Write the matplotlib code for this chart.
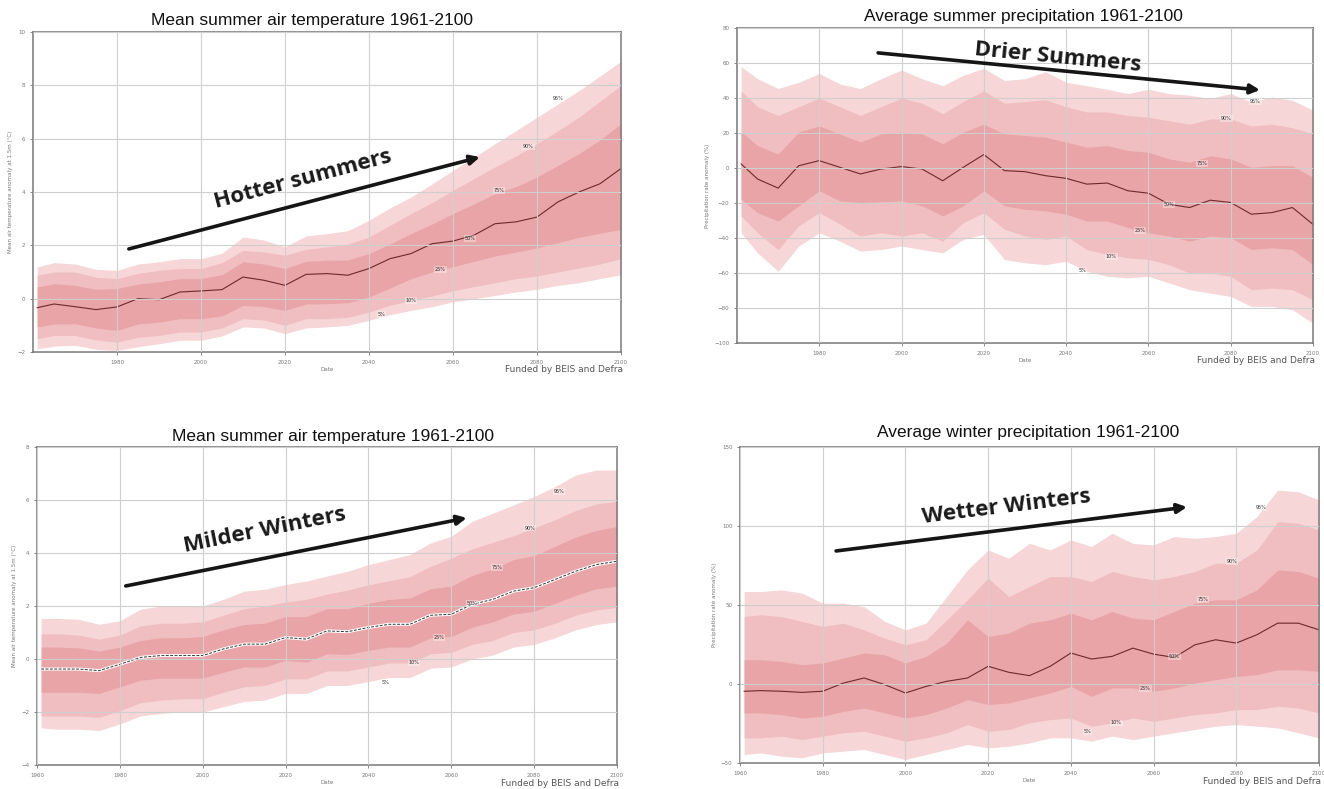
import matplotlib
matplotlib.use("Agg")
import matplotlib.pyplot as plt

# ======================================
# DATA
# ======================================
years = [1961, 1965, 1970, 1975, 1980, 1985, 1990, 1995, 2000, 2005,
         2010, 2015, 2020, 2025, 2030, 2035, 2040, 2045, 2050, 2055,
         2060, 2065, 2070, 2075, 2080, 2085, 2090, 2095, 2100]
pct_names = ["5%", "10%", "25%", "50%", "75%", "90%", "95%"]

# --- summer temperature (degC)
st_p95 = [1.19, 1.35, 1.3, 1.1, 1.06, 1.3, 1.38, 1.5, 1.5, 1.7, 2.31, 2.2, 1.94, 2.35, 2.44,
          2.55, 2.94, 3.4, 3.81, 4.3, 4.81, 5.3, 5.81, 6.3, 6.8, 7.3, 7.8, 8.35, 8.9]
st_p90 = [0.88, 1.0, 1.0, 0.8, 0.75, 0.95, 1.06, 1.13, 1.13, 1.35, 1.81, 1.75, 1.63, 1.85, 1.94,
          2.05, 2.31, 2.75, 3.19, 3.6, 4.06, 4.5, 4.94, 5.35, 5.81, 6.3, 6.81, 7.4, 8.0]
st_p75 = [0.44, 0.56, 0.5, 0.35, 0.38, 0.55, 0.63, 0.75, 0.75, 0.9, 1.38, 1.3, 1.13, 1.4, 1.44,
          1.45, 1.69, 2.05, 2.44, 2.8, 3.19, 3.55, 3.94, 4.2, 4.56, 5.0, 5.44, 5.95, 6.56]
st_p50 = [-0.34, -0.2, -0.3, -0.41, -0.31, 0.0, -0.04, 0.25, 0.29, 0.34, 0.81, 0.69, 0.5, 0.91, 0.94,
          0.88, 1.13, 1.5, 1.69, 2.06, 2.16, 2.38, 2.81, 2.88, 3.06, 3.63, 4.0, 4.31, 4.88]
st_p25 = [-1.06, -0.95, -0.94, -1.1, -1.19, -0.95, -0.88, -0.75, -0.75, -0.65, -0.25, -0.3, -0.44, -0.2, -0.19,
          -0.15, 0.06, 0.4, 0.75, 1.0, 1.2, 1.4, 1.6, 1.75, 1.9, 2.1, 2.3, 2.45, 2.6]
st_p10 = [-1.5, -1.38, -1.38, -1.55, -1.63, -1.45, -1.38, -1.25, -1.25, -1.1, -0.75, -0.8, -1.0, -0.75, -0.75,
          -0.7, -0.5, -0.25, -0.06, 0.1, 0.3, 0.45, 0.6, 0.75, 0.85, 1.0, 1.15, 1.3, 1.5]
st_p5 = [-1.88, -1.78, -1.75, -1.9, -1.94, -1.8, -1.69, -1.56, -1.56, -1.4, -1.06, -1.1, -1.31, -1.1, -1.06,
         -1.0, -0.81, -0.6, -0.44, -0.3, -0.12, 0.0, 0.12, 0.25, 0.35, 0.5, 0.6, 0.75, 0.9]
st_label_years = [2043, 2050, 2057, 2064, 2071, 2078, 2085]
st_label_vals = [-0.6, -0.06, 1.09, 2.25, 4.06, 5.69, 7.5]

# --- summer precipitation (%)
sp_p95 = [57.9, 51, 45.4, 49, 54, 48, 45.4, 51, 56, 51, 47, 53, 57, 50, 51,
          55, 49, 47, 45, 42.5, 45, 42.5, 41.6, 39.7, 42.5, 37.7, 40.6, 38.7, 33]
sp_p90 = [44, 35, 30, 35, 40, 35, 30, 35, 40, 37, 31, 38, 44, 37, 38,
          39, 35, 32, 32, 30, 29, 27, 25, 28, 28, 24, 25, 23, 19.5]
sp_p75 = [20.7, 12.8, 8, 20.5, 24, 19.5, 14.8, 19.5, 20.5, 19.5, 13.8, 20.5, 25, 19.5, 18.6,
          17.6, 14.8, 11.9, 12.8, 10, 9, 5.2, 3.3, 7, 5.2, 0.4, 1.3, 1.3, -5.4]
sp_p50 = [2.3, -6.3, -11.5, 1.3, 4.2, 0.4, -3.4, -0.6, 0.8, -0.6, -7.3, 0.4, 7.7, -1.5, -2.1,
          -4.4, -5.9, -9.2, -8.6, -13.0, -14.4, -20.7, -22.6, -18.4, -19.7, -26.4, -25.5, -22.6, -32.2]
sp_p25 = [-17.8, -25.5, -30.3, -21.6, -13, -18.8, -19.7, -19.3, -18.8, -21.6, -27.4, -21.6, -13, -21.6, -23.6,
          -24.5, -26.4, -30.3, -30.3, -34, -37, -38.9, -41.8, -38.9, -39.8, -46.6, -45.6, -46.6, -55.2]
sp_p10 = [-27.4, -37, -46.6, -33, -25.5, -32, -38.9, -37, -38.9, -37, -41.8, -31.2, -25.5, -35, -38.9,
          -40.8, -38.9, -46.6, -49.4, -51.3, -52.3, -55.2, -60, -60, -61.9, -69.5, -68.6, -69.5, -75.3]
sp_p5 = [-37, -48.5, -59, -44.6, -37, -41.8, -47.5, -46.6, -44.6, -46.6, -48.5, -40.8, -37.9, -52.3, -54.2,
         -55.2, -53.3, -59, -61.9, -62.8, -61.9, -65.7, -69.5, -71.5, -73.4, -79.1, -79.1, -81, -88.7]
sp_label_years = [2044, 2051, 2058, 2065, 2073, 2079, 2086]
sp_label_vals = [-58.4, -50.4, -35.6, -20.7, 2.7, 28.2, 38.1]

# --- winter temperature (degC)
wt_p95 = [1.53, 1.53, 1.5, 1.31, 1.44, 1.88, 2.0, 2.0, 2.0, 2.25, 2.56, 2.63, 2.81, 2.94, 3.13,
          3.31, 3.56, 3.75, 3.94, 4.38, 4.63, 5.19, 5.5, 5.81, 6.13, 6.5, 6.94, 7.13, 7.13]
wt_p90 = [0.95, 0.95, 0.9, 0.75, 0.9, 1.25, 1.35, 1.35, 1.4, 1.65, 1.9, 2.0, 2.15, 2.25, 2.45,
          2.6, 2.8, 2.95, 3.1, 3.5, 3.8, 4.15, 4.4, 4.65, 4.95, 5.25, 5.6, 5.85, 5.95]
wt_p75 = [0.45, 0.45, 0.42, 0.3, 0.45, 0.7, 0.8, 0.8, 0.85, 1.1, 1.3, 1.35, 1.6, 1.6, 1.9,
          1.9, 2.1, 2.25, 2.3, 2.65, 2.75, 3.15, 3.4, 3.75, 3.9, 4.25, 4.6, 4.85, 5.0]
wt_p50 = [-0.38, -0.38, -0.38, -0.44, -0.2, 0.06, 0.13, 0.13, 0.13, 0.38, 0.56, 0.56, 0.81, 0.75, 1.06,
          1.03, 1.19, 1.31, 1.31, 1.65, 1.69, 2.06, 2.25, 2.56, 2.69, 3.0, 3.31, 3.56, 3.69]
wt_p25 = [-1.25, -1.25, -1.25, -1.3, -1.05, -0.8, -0.72, -0.72, -0.72, -0.5, -0.3, -0.3, -0.05, -0.12, 0.2,
          0.17, 0.33, 0.45, 0.45, 0.8, 0.85, 1.2, 1.4, 1.7, 1.8, 2.1, 2.4, 2.65, 2.75]
wt_p10 = [-2.15, -2.15, -2.15, -2.2, -1.95, -1.65, -1.55, -1.5, -1.5, -1.25, -1.05, -1.0, -0.75, -0.75, -0.45,
          -0.45, -0.3, -0.15, -0.15, 0.2, 0.25, 0.55, 0.7, 1.0, 1.1, 1.35, 1.65, 1.85, 1.95]
wt_p5 = [-2.6, -2.65, -2.65, -2.7, -2.45, -2.15, -2.05, -2.0, -2.0, -1.8, -1.6, -1.55, -1.3, -1.3, -1.0,
         -1.0, -0.85, -0.7, -0.7, -0.35, -0.3, 0.0, 0.15, 0.45, 0.55, 0.8, 1.1, 1.3, 1.4]
wt_label_years = [2044, 2051, 2057, 2065, 2071, 2079, 2086]
wt_label_vals = [-0.88, -0.15, 0.81, 2.1, 3.46, 4.94, 6.31]

# --- winter precipitation (%)
wp_p95 = [58.5, 58.5, 59.6, 57.5, 51.2, 51.2, 49, 39.6, 34.3, 38.5, 55.4, 72.2, 84.8, 79.6, 89,
          84.8, 91.2, 87, 95.4, 89, 88, 93.3, 92.2, 93.3, 95.4, 106, 122.7, 121.7, 116.4]
wp_p90 = [42.7, 43.8, 42.7, 39.6, 36.4, 38.5, 34.3, 29, 24.8, 28, 40.6, 53.3, 67, 55.4, 61.7,
          68, 68, 64.8, 71.2, 68, 65.9, 68, 71.2, 76.4, 76.4, 84.8, 102.7, 101.7, 97.5]
wp_p75 = [15.4, 15.4, 14.3, 12.2, 13.3, 16.4, 19.6, 18.5, 13.3, 17.5, 25.9, 40.6, 30.1, 32.2, 38.5,
          40.6, 44.8, 40.6, 45.9, 41.7, 40.6, 45.9, 51.2, 53.3, 53.3, 59.6, 72.2, 71.2, 67]
wp_p50 = [-4.6, -4.2, -4.6, -5.3, -4.6, 0.6, 3.8, -0.4, -5.7, -1.5, 1.7, 3.8, 11.2, 7.4, 5.3,
          11.2, 19.6, 15.8, 17.5, 22.7, 18.9, 16.8, 24.8, 28, 25.9, 31.2, 38.5, 38.5, 34.3]
wp_p25 = [-18.3, -18.3, -19.4, -21.5, -20.4, -17.3, -15.2, -18.3, -21.5, -19.4, -15.2, -9.9, -13, -12, -8.8,
          -5.7, -1.5, -7.8, -2.5, -2.5, -4.6, -2.5, 0.6, 2.7, 4.8, 5.9, 9, 9, 8]
wp_p10 = [-34.1, -34.1, -33, -35.2, -33, -30.9, -29.9, -33, -36.2, -34.1, -30.9, -25.7, -29.9, -28.8, -24.6,
          -22.5, -21.5, -26.7, -24.6, -21.5, -23.6, -21.5, -19.4, -18.3, -16.2, -16.2, -14.1, -15.2, -18.3]
wp_p5 = [-44.6, -43.6, -45.7, -46.7, -43.6, -42.5, -41.5, -44.6, -47.8, -44.6, -41.5, -38.3, -40.4, -39.4, -37.3,
         -34.1, -34.1, -36.2, -33, -35.2, -33, -30.9, -28.8, -26.7, -25.7, -26.7, -27.8, -30.9, -34.1]
wp_label_years = [2044, 2051, 2058, 2065, 2072, 2079, 2086]
wp_label_vals = [-30.3, -24.6, -2.9, 17.5, 53.3, 77.5, 111.6]

# ======================================
# STYLE
# ======================================
W, H = 1324, 789
LIGHT, MID, DARK = "#f6d6d7", "#f0bec0", "#e8a4a6"
MEDIAN = "#6e2a2a"
TITLE_FONT = ["Liberation Sans Narrow", "Liberation Sans", "DejaVu Sans"]
ARROW_FONT = ["Open Sans", "DejaVu Sans"]
YLAB_T = "Mean air temperature anomaly at 1.5m (\u00b0C)"
YLAB_P = "Precipitation rate anomaly (%)"

fig = plt.figure(figsize=(W / 100, H / 100), dpi=100)


def px_box(left, top, right, bottom):
    return [left / W, 1 - bottom / H, (right - left) / W, (bottom - top) / H]


def draw_panel(box, bands, label_years, label_vals, ylim, yticks, xticks,
               ylabel, title, title_xy, arrow, white_median=False):
    ax = fig.add_axes(px_box(*box))
    p5, p10, p25, p50, p75, p90, p95 = bands
    ax.fill_between(years, p5, p95, color=LIGHT, lw=0)
    ax.fill_between(years, p10, p90, color=MID, lw=0)
    ax.fill_between(years, p25, p75, color=DARK, lw=0)
    if white_median:
        ax.plot(years, p50, color="white", lw=2.2)
        ax.plot(years, p50, color="#333333", lw=0.7, dashes=(3, 1.5))
    else:
        ax.plot(years, p50, color=MEDIAN, lw=0.8)

    # tiny percentile tags sitting on each plume edge
    for name, yr, val in zip(pct_names, label_years, label_vals):
        ax.text(yr, val, name, fontsize=3.5, color="#333333", ha="center", va="center",
                bbox=dict(fc="white", ec="none", alpha=0.35, pad=0.6))

    ax.set_xlim(1960, 2100)
    ax.set_ylim(*ylim)
    ax.set_xticks(xticks)
    ax.set_yticks(yticks)
    ax.grid(True, color="#cfcfcf", lw=0.8)
    ax.set_axisbelow(False)
    ax.tick_params(labelsize=4, colors="#777777", length=2, width=0.6)
    for s in ax.spines.values():
        s.set_color("#777777")
        s.set_linewidth(1.1)
    ax.set_xlabel("Date", fontsize=4, color="#777777", labelpad=2)
    ax.set_ylabel(ylabel, fontsize=4, color="#777777", labelpad=3)

    fig.text(title_xy[0] / W, 1 - title_xy[1] / H, title, family=TITLE_FONT,
             fontsize=12.5, ha="center", va="center", color="#111111")

    text, start, end, text_xy, angle = arrow
    ax.annotate("", xy=end, xytext=start, xycoords="axes fraction",
                arrowprops=dict(arrowstyle="-|>", color="#151515", lw=2.6,
                                mutation_scale=14, shrinkA=0, shrinkB=0))
    ax.text(text_xy[0], text_xy[1], text, transform=ax.transAxes, family=ARROW_FONT,
            fontsize=16, fontweight="bold", color="#1a1a1a", rotation=angle,
            rotation_mode="anchor", ha="center", va="center")

    fig.text((box[2] + 2) / W, 1 - (box[3] + 18) / H, "Funded by BEIS and Defra",
             fontsize=6.5, color="#555555", ha="right", va="center")
    return ax


# ======================================
# PANELS
# ======================================
ticks_1980 = [1980, 2000, 2020, 2040, 2060, 2080, 2100]
ticks_1960 = [1960, 1980, 2000, 2020, 2040, 2060, 2080, 2100]

draw_panel((33, 32, 621, 352),
           (st_p5, st_p10, st_p25, st_p50, st_p75, st_p90, st_p95),
           st_label_years, st_label_vals, (-2, 10), [-2, 0, 2, 4, 6, 8, 10], ticks_1980,
           YLAB_T, "Mean summer air temperature 1961-2100", (312, 20),
           ("Hotter summers", (0.163, 0.322), (0.760, 0.609), (0.459, 0.54), 14.7))

draw_panel((737, 28, 1313, 343),
           (sp_p5, sp_p10, sp_p25, sp_p50, sp_p75, sp_p90, sp_p95),
           sp_label_years, sp_label_vals, (-100, 80), list(range(-100, 81, 20)), ticks_1980,
           YLAB_P, "Average summer precipitation 1961-2100", (1023, 17),
           ("Drier Summers", (0.245, 0.921), (0.908, 0.803), (0.557, 0.905), -5.5))

draw_panel((37, 447, 617, 765),
           (wt_p5, wt_p10, wt_p25, wt_p50, wt_p75, wt_p90, wt_p95),
           wt_label_years, wt_label_vals, (-4, 8), [-4, -2, 0, 2, 4, 6, 8], ticks_1960,
           YLAB_T, "Mean summer air temperature 1961-2100", (333, 437),
           ("Milder Winters", (0.153, 0.563), (0.741, 0.777), (0.393, 0.739), 11.3),
           white_median=True)

draw_panel((740, 447, 1319, 763),
           (wp_p5, wp_p10, wp_p25, wp_p50, wp_p75, wp_p90, wp_p95),
           wp_label_years, wp_label_vals, (-50, 150), [-50, 0, 50, 100, 150], ticks_1960,
           YLAB_P, "Average winter precipitation 1961-2100", (1028, 432),
           ("Wetter Winters", (0.166, 0.671), (0.772, 0.810), (0.461, 0.81), 7.1))

fig.savefig("out.png", dpi=100)
print("Saved: out.png")
